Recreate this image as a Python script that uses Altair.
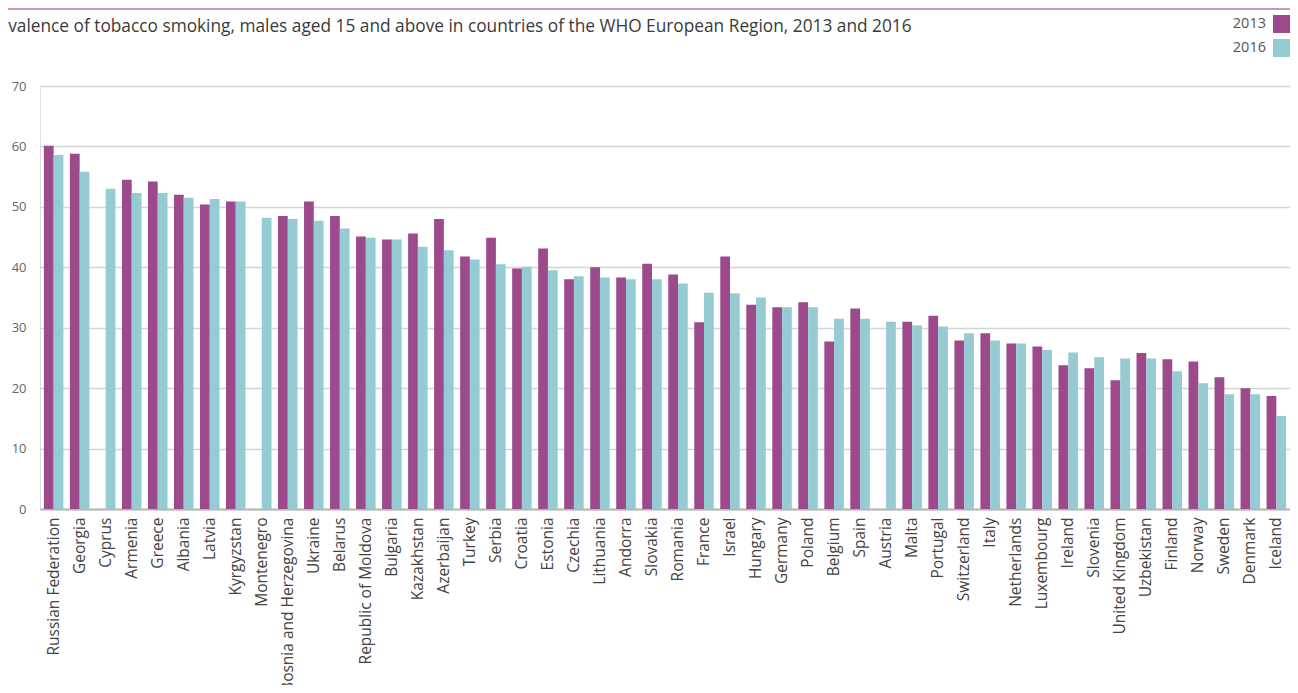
import altair as alt
import pandas as pd

countries = [
    "Russian Federation", "Georgia", "Cyprus", "Armenia", "Greece", "Albania", "Latvia",
    "Kyrgyzstan", "Montenegro", "Bosnia and Herzegovina", "Ukraine", "Belarus",
    "Republic of Moldova", "Bulgaria", "Kazakhstan", "Azerbaijan", "Turkey", "Serbia",
    "Croatia", "Estonia", "Czechia", "Lithuania", "Andorra", "Slovakia", "Romania",
    "France", "Israel", "Hungary", "Germany", "Poland", "Belgium", "Spain", "Austria",
    "Malta", "Portugal", "Switzerland", "Italy", "Netherlands", "Luxembourg", "Ireland",
    "Slovenia", "United Kingdom", "Uzbekistan", "Finland", "Norway", "Sweden", "Denmark",
    "Iceland",
]
smoking_2013 = [
    60.1, 58.8, None, 54.5, 54.2, 52.0, 50.4, 50.9, None, 48.5, 50.9, 48.5,
    45.1, 44.6, 45.6, 48.0, 41.8, 44.9, 39.8, 43.1, 38.0, 40.0, 38.3, 40.6, 38.8,
    30.9, 41.8, 33.8, 33.4, 34.2, 27.7, 33.2, None, 31.0, 32.0, 27.9, 29.1, 27.4,
    26.9, 23.8, 23.3, 21.3, 25.8, 24.8, 24.4, 21.8, 20.0, 18.7,
]
smoking_2016 = [
    58.6, 55.8, 53.0, 52.3, 52.3, 51.5, 51.3, 50.9, 48.2, 48.0, 47.7, 46.4,
    44.9, 44.6, 43.4, 42.8, 41.3, 40.5, 40.1, 39.5, 38.5, 38.3, 38.0, 38.0, 37.3,
    35.8, 35.7, 35.0, 33.4, 33.4, 31.5, 31.5, 31.0, 30.4, 30.2, 29.1, 27.9, 27.4,
    26.3, 25.9, 25.1, 24.9, 24.9, 22.8, 20.8, 19.0, 19.0, 15.4,
]
years = ["2013", "2016"]
colors = ["#9c4a8c", "#96cbd3"]
y_ticks = [0, 10, 20, 30, 40, 50, 60, 70]
title_text = ("Prevalence of tobacco smoking, males aged 15 and above in countries "
              "of the WHO European Region, 2013 and 2016")

rows = []
for c, a, b in zip(countries, smoking_2013, smoking_2016):
    rows.append({"country": c, "year": years[0], "value": a})
    rows.append({"country": c, "year": years[1], "value": b})
df = pd.DataFrame(rows)

W, H = 1250, 423
FONT = "Open Sans"

bars = alt.Chart(df).mark_bar().encode(
    x=alt.X(
        "country:N", sort=countries,
        scale=alt.Scale(paddingInner=0.25, paddingOuter=0.15),
        axis=alt.Axis(
            title=None, labelAngle=-90, labelAlign="right", labelBaseline="middle",
            labelPadding=8, labelFontSize=15.5, labelColor="#444444", labelFont=FONT,
            ticks=False, domain=True, domainColor="#b5b5b5", domainWidth=2, grid=False,
        ),
    ),
    xOffset=alt.XOffset("year:N", sort=years, scale=alt.Scale(paddingInner=0, paddingOuter=0)),
    y=alt.Y(
        "value:Q",
        scale=alt.Scale(domain=[0, 70], nice=False),
        axis=alt.Axis(
            title=None, values=y_ticks, ticks=False, domain=False,
            labelPadding=14, labelFontSize=13, labelColor="#666666", labelFont=FONT,
            gridColor="#d4d4d4", gridWidth=1.5,
        ),
    ),
    color=alt.Color(
        "year:N",
        scale=alt.Scale(domain=years, range=colors),
        legend=alt.Legend(
            title=None, orient="none", legendX=1233, legendY=-71,
            symbolType="square", symbolSize=324, symbolStrokeWidth=0, symbolOpacity=1,
            labelAlign="right", labelOffset={"expr": "-25"}, labelFontSize=14.5,
            labelColor="#555555", labelFont=FONT, rowPadding=6,
        ),
    ),
)

top_line = alt.Chart(pd.DataFrame({"k": [0]})).mark_rule(color="#b877ab", strokeWidth=1.5).encode(
    x=alt.value(-32), x2=alt.value(W), y=alt.value(-77)
)

chart = alt.layer(bars, top_line).properties(
    width=W,
    height=H,
    title=alt.TitleParams(
        text=title_text, anchor="start", frame="group", fontSize=17.3, font=FONT,
        fontWeight="normal", color="#3a3a3a", dx=-59, offset=0, dy=41, baseline="alphabetic",
    ),
    autosize=alt.AutoSizeParams(type="none"),
    padding={"left": 32, "top": 78, "right": 0, "bottom": 176},
).configure_view(stroke=None).configure(font=FONT)

chart.save("out.html", embed_options={"renderer": "svg", "actions": False})
